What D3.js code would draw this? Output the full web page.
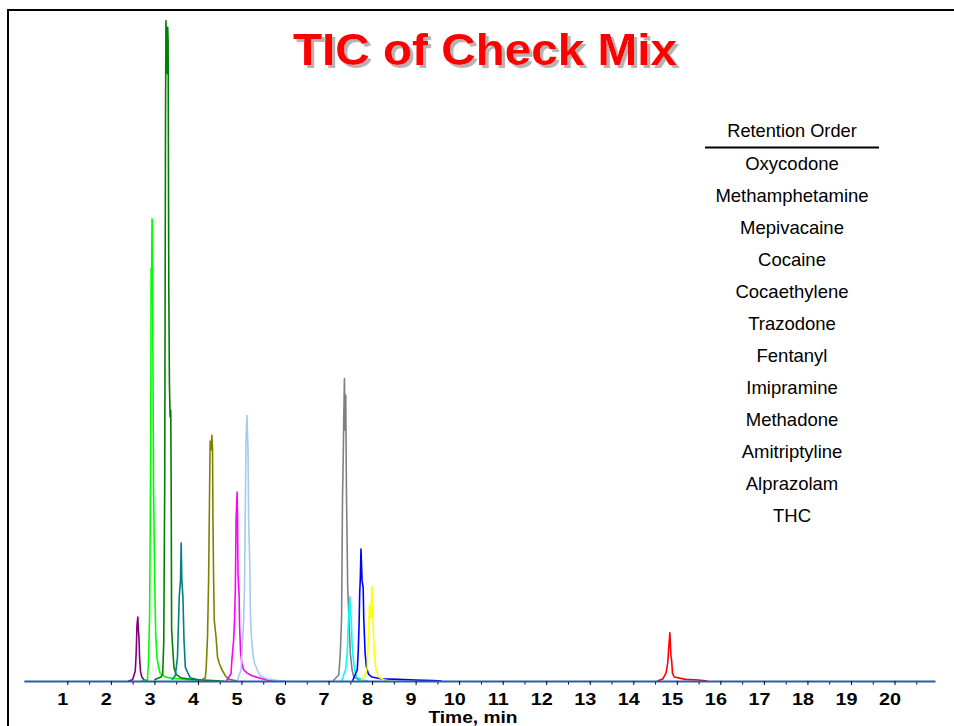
<!DOCTYPE html>
<html>
<head>
<meta charset="utf-8">
<script src="https://cdn.jsdelivr.net/npm/d3@7"></script>
<style>
  body { margin: 0; background: #fff; }
  svg { display: block; font-family: "Liberation Sans", Arial, sans-serif; }
</style>
</head>
<body>
<svg id="chart" width="954" height="726"></svg>
<script>

/* Compounds in retention order, as listed on the chart. */
var compounds = ["Oxycodone", "Methamphetamine", "Mepivacaine", "Cocaine", "Cocaethylene",
  "Trazodone", "Fentanyl", "Imipramine", "Methadone", "Amitriptyline", "Alprazolam", "THC"];

/* Extracted traces: [time (min), relative intensity (% of largest peak)] */
var oxycodone = [[2.40,0],[2.50,0.2],[2.56,1.5],[2.58,4],[2.60,8.5],[2.62,9.7],[2.63,8],[2.645,6.5],
  [2.66,3.5],[2.68,1.5],[2.71,0.6],[2.76,0.2],[2.85,0]];
var methamphetamine = [[2.70,0],[2.84,0.2],[2.865,3],[2.89,10],[2.915,35],[2.925,62.5],[2.935,60],
  [2.945,70],[2.955,69],[2.965,50],[2.98,30],[3.00,19],[3.015,12],[3.03,7],[3.06,3.5],[3.10,2],
  [3.13,1.2],[3.25,0.6],[3.40,0.4],[3.60,0.3],[3.80,0.2],[4.20,0.1],[4.60,0]];
var mepivacaine = [[3.00,0.2],[3.15,0.6],[3.19,1],[3.215,6],[3.237,30],[3.255,85],[3.265,100],
  [3.28,95],[3.29,92],[3.305,99],[3.315,97],[3.33,60],[3.345,45],[3.36,40],[3.375,41],[3.385,30],
  [3.395,8],[3.42,5],[3.45,2],[3.50,1],[3.60,0.5],[3.80,0.3],[4.20,0.1],[4.50,0]];
var cocaine = [[3.40,0.2],[3.48,0.8],[3.53,3.6],[3.57,12.7],[3.60,15.3],[3.615,20.9],[3.63,15.3],
  [3.655,12.7],[3.68,6.2],[3.71,2.1],[3.77,1.2],[3.82,0.5],[4.00,0.2],[4.20,0]];
var cocaethylene = [[4.05,0],[4.17,0.5],[4.19,2.1],[4.22,6.7],[4.245,15.3],[4.26,24.4],[4.28,36.3],
  [4.30,35],[4.32,37.2],[4.335,35.2],[4.345,24.4],[4.36,15.3],[4.375,9.2],[4.415,6.7],[4.45,3.6],
  [4.49,2.7],[4.55,1.7],[4.63,0.8],[4.70,0.3],[4.90,0]];
var trazodone = [[4.65,0],[4.76,1.1],[4.78,3.2],[4.82,6.2],[4.84,9.2],[4.86,14.1],[4.875,24.2],
  [4.90,28.6],[4.91,24.2],[4.92,16.2],[4.945,13.2],[4.957,8.2],[4.98,4.2],[5.01,2.7],[5.05,1.7],
  [5.13,1.2],[5.24,0.8],[5.39,0.5],[5.60,0.1],[5.80,0]];
var fentanyl = [[4.90,0],[4.99,1.7],[5.01,4.2],[5.05,9.2],[5.07,14.1],[5.09,27.5],[5.105,36.5],
  [5.125,40.2],[5.15,35.2],[5.165,24.2],[5.19,17.7],[5.205,10.3],[5.23,6.6],[5.26,4.2],[5.30,2.7],
  [5.36,1.7],[5.43,0.8],[5.60,0.3],[5.80,0.1],[6.00,0]];
var imipramine = [[7.10,0],[7.235,0.9],[7.27,4.2],[7.30,9.7],[7.32,27.4],[7.336,33.4],[7.35,40],
  [7.365,45.8],[7.38,38],[7.395,43.3],[7.41,29.4],[7.44,14.2],[7.475,8.2],[7.50,4.2],[7.54,1.7],
  [7.58,0.6],[7.70,0.2],[7.90,0]];
var methadone = [[7.30,0],[7.39,1.7],[7.43,4.2],[7.45,8.2],[7.49,12.7],[7.505,10],[7.52,9.7],
  [7.54,5.7],[7.57,3.2],[7.60,1.7],[7.64,0.6],[7.80,0.1],[7.90,0]];
var amitriptyline = [[7.55,0],[7.66,1.7],[7.68,4.2],[7.70,8.2],[7.715,13.2],[7.73,15.6],[7.745,20.0],
  [7.77,15.2],[7.795,14.1],[7.81,9.2],[7.84,4.2],[7.87,2.1],[7.92,1.0],[8.00,0.6],[8.20,0.35],
  [8.60,0.25],[9.00,0.15],[9.40,0.05],[9.60,0]];
var alprazolam = [[7.75,0],[7.86,1.2],[7.89,2.1],[7.91,5.7],[7.94,11.5],[7.965,9.5],[7.98,11],
  [8.00,14.3],[8.025,8.2],[8.05,4.2],[8.09,1.7],[8.15,0.6],[8.30,0.1],[8.40,0]];
var thc = [[14.55,0],[14.675,0.3],[14.75,1.2],[14.79,2.7],[14.81,4.7],[14.84,7.3],[14.865,3.7],
  [14.88,3.2],[14.90,1.2],[14.94,0.6],[15.20,0.25],[15.50,0.15],[15.70,0]];

var traces = [oxycodone, methamphetamine, mepivacaine, cocaine, cocaethylene, trazodone,
  fentanyl, imipramine, methadone, amitriptyline, alprazolam, thc];

var traceColors = ["#800080", "#00ff00", "#008000", "#008080", "#808000", "#ff00ff",
  "#a6caf0", "#808080", "#00ffff", "#0000ff", "#ffff00", "#ff0000"];

var majorTicks = d3.range(1, 21);
var minorTicks = d3.range(1.5, 21, 1);

var svg = d3.select("#chart");

/* Drop shadow for the title */
var shadow = svg.append("defs").append("filter")
  .attr("id", "title-shadow")
  .attr("x", "-5%").attr("y", "-20%")
  .attr("width", "110%").attr("height", "150%");
shadow.append("feDropShadow")
  .attr("dx", 3).attr("dy", 3)
  .attr("stdDeviation", 0.4)
  .attr("flood-color", "#b4b4b4")
  .attr("flood-opacity", 1);

/* Scales */
var x = d3.scaleLinear().domain([0, 20.93]).range([23.8, 935]);
var y = d3.scaleLinear().domain([0, 100]).range([681, 20.7]);

/* Frame */
svg.append("line")
  .attr("x1", 7).attr("x2", 954).attr("y1", 10).attr("y2", 10)
  .attr("stroke", "#000").attr("stroke-width", 2);
svg.append("line")
  .attr("x1", 8).attr("x2", 8).attr("y1", 9).attr("y2", 726)
  .attr("stroke", "#000").attr("stroke-width", 2);

/* Traces */
var line = d3.line()
  .x(function(d) { return x(d[0]); })
  .y(function(d) { return y(d[1]); });

svg.append("g").selectAll("path")
  .data(traces)
  .enter().append("path")
  .attr("d", line)
  .attr("fill", "none")
  .attr("stroke", function(d, i) { return traceColors[i]; })
  .attr("stroke-width", 1.6)
  .attr("stroke-linejoin", "round");

/* Axis */
var minor = svg.append("g")
  .attr("transform", "translate(0,681)")
  .call(d3.axisBottom(x).tickValues(minorTicks).tickFormat("").tickSizeInner(3.5).tickSizeOuter(0));
minor.select(".domain").remove();
minor.selectAll(".tick line").attr("stroke", "#000");

var axis = svg.append("g")
  .attr("transform", "translate(0,681)")
  .call(d3.axisBottom(x).tickValues(majorTicks).tickFormat(d3.format("d")).tickSizeInner(4).tickSizeOuter(0));
axis.select(".domain").attr("stroke", "#2a5ea8").attr("stroke-width", 2);
axis.selectAll(".tick line").attr("stroke", "#000");
axis.selectAll(".tick text")
  .attr("y", 24)
  .attr("dy", null)
  .attr("transform", "translate(-5,0) scale(1.2,1)")
  .attr("fill", "#000")
  .style("font-family", "'Liberation Sans', Arial, sans-serif")
  .style("font-size", "16.5px")
  .style("font-weight", "bold");

svg.append("text")
  .attr("transform", "translate(473,723) scale(1.2,1)")
  .attr("text-anchor", "middle")
  .style("font-size", "16px")
  .style("font-weight", "bold")
  .text("Time, min");

/* Title */
svg.append("text")
  .attr("transform", "translate(485,65) scale(1.06,1)")
  .attr("text-anchor", "middle")
  .attr("fill", "#ff0000")
  .attr("filter", "url(#title-shadow)")
  .style("font-size", "45px")
  .style("font-weight", "bold")
  .text("TIC of Check Mix");

/* Retention order list */
var legend = svg.append("g").attr("transform", "translate(792,0)");

legend.append("text")
  .attr("y", 137)
  .attr("text-anchor", "middle")
  .style("font-size", "18.2px")
  .text("Retention Order");

legend.append("line")
  .attr("x1", -87).attr("x2", 87).attr("y1", 147.5).attr("y2", 147.5)
  .attr("stroke", "#000").attr("stroke-width", 2);

legend.selectAll(".item")
  .data(compounds)
  .enter().append("text")
  .attr("class", "item")
  .attr("y", function(d, i) { return 169.5 + i * 32; })
  .attr("text-anchor", "middle")
  .style("font-size", "18.5px")
  .text(function(d) { return d; });

</script>
</body>
</html>
